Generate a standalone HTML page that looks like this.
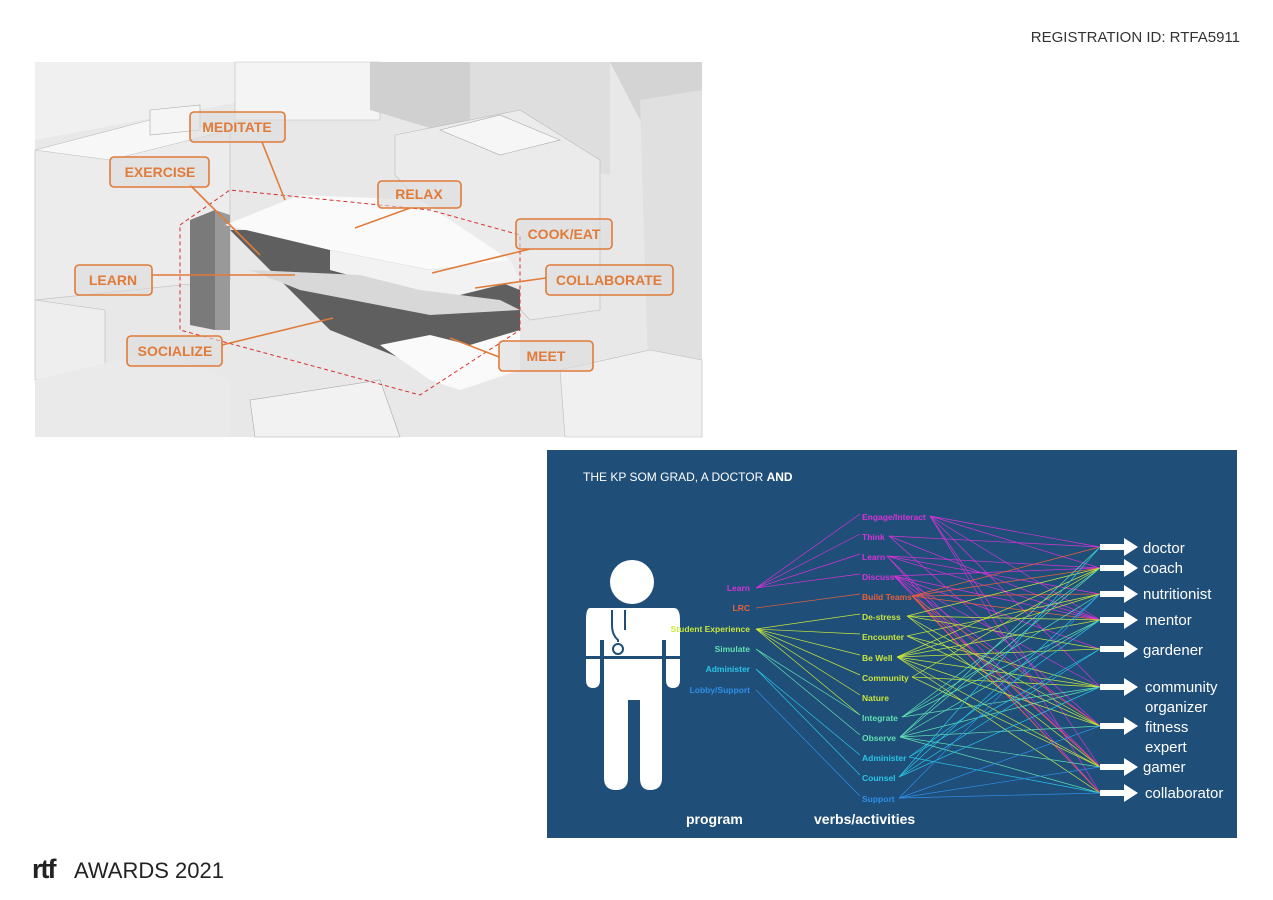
<!DOCTYPE html>
<html><head><meta charset="utf-8"><style>
body{margin:0;background:#fff;width:1273px;height:900px;overflow:hidden;font-family:"Liberation Sans",sans-serif}
svg{display:block}
</style></head><body>
<svg id="s" width="1273" height="900" viewBox="0 0 1273 900" xmlns="http://www.w3.org/2000/svg">
<text x="1240" y="42" text-anchor="end" font-size="15" fill="#333">REGISTRATION ID: RTFA5911</text>
<g>
<rect x="35" y="62" width="667" height="375" fill="#e8e8e8"/>
<polygon points="35,62 250,62 250,100 35,140" fill="#f0f0f0"/>
<polygon points="235,62 380,62 380,120 235,120" fill="#f4f4f4" stroke="#bbb" stroke-width=".6"/>
<polygon points="370,62 470,62 470,140 370,110" fill="#d0d0d0"/>
<polygon points="470,62 610,62 610,175 470,150" fill="#dedede"/>
<polygon points="610,62 702,62 702,110 640,120" fill="#d4d4d4"/>
<polygon points="640,100 702,90 702,437 650,437" fill="#e0e0e0"/>
<polygon points="35,150 230,130 230,280 35,300" fill="#ececec" stroke="#bbb" stroke-width=".6"/>
<polygon points="35,150 150,120 230,130 110,160" fill="#f7f7f7" stroke="#bbb" stroke-width=".6"/>
<polygon points="150,110 200,105 200,130 150,135" fill="#f5f5f5" stroke="#aaa" stroke-width=".6"/>
<polygon points="395,135 520,110 600,160 600,310 530,320 395,175" fill="#ebebeb" stroke="#bbb" stroke-width=".6"/>
<polygon points="440,130 500,115 560,140 500,155" fill="#f6f6f6" stroke="#aaa" stroke-width=".6"/>
<polygon points="35,300 105,310 105,370 35,380" fill="#eeeeee" stroke="#bbb" stroke-width=".6"/>
<polygon points="35,380 160,350 230,380 230,437 35,437" fill="#eaeaea"/>
<polygon points="250,400 380,380 400,437 255,437" fill="#f2f2f2" stroke="#aaa" stroke-width=".6"/>
<polygon points="560,370 650,350 702,360 702,437 565,437" fill="#f0f0f0" stroke="#bbb" stroke-width=".6"/>
<polygon points="190,220 215,210 215,330 190,325" fill="#7a7a7a"/>
<polygon points="215,210 230,215 230,330 215,330" fill="#999"/>
<polygon points="230,230 330,330 430,370 520,330 520,290 420,250 290,230" fill="#5f5f5f"/>
<polygon points="225,225 300,195 420,200 510,260 430,270 330,250" fill="#fafafa"/>
<polygon points="330,250 430,270 510,260 520,280 440,300 330,270" fill="#f2f2f2"/>
<polygon points="250,270 360,275 420,290 500,300 520,310 430,315 300,290" fill="#d8d8d8"/>
<polygon points="380,345 430,335 470,345 520,330 520,370 460,390 430,380" fill="#fafafa"/>
<polygon points="180,225 230,190 430,210 520,235 520,330 420,395 180,330" fill="none" stroke="#d83030" stroke-width="1" stroke-dasharray="4,3"/>
</g>
<g fill="none" stroke="#e07b39" stroke-width="1.6">
<line x1="262" y1="142" x2="285" y2="200"/>
<line x1="190" y1="185" x2="260" y2="255"/>
<line x1="410" y1="208" x2="355" y2="228"/>
<line x1="530" y1="249" x2="432" y2="273"/>
<line x1="152" y1="275" x2="295" y2="275"/>
<line x1="546" y1="278" x2="475" y2="288"/>
<line x1="222" y1="345" x2="333" y2="318"/>
<line x1="499" y1="357" x2="450" y2="338"/>
<rect x="190" y="112" width="95" height="30" rx="4" fill="rgba(220,220,220,.6)"/>
<rect x="110" y="157" width="99" height="30" rx="4" fill="rgba(220,220,220,.6)"/>
<rect x="378" y="181" width="83" height="27" rx="4" fill="rgba(220,220,220,.6)"/>
<rect x="516" y="219" width="96" height="30" rx="4" fill="rgba(220,220,220,.6)"/>
<rect x="75" y="265" width="77" height="30" rx="4" fill="rgba(220,220,220,.6)"/>
<rect x="546" y="265" width="127" height="30" rx="4" fill="rgba(220,220,220,.6)"/>
<rect x="127" y="336" width="95" height="30" rx="4" fill="rgba(220,220,220,.6)"/>
<rect x="499" y="341" width="94" height="30" rx="4" fill="rgba(220,220,220,.6)"/>
</g>
<g fill="#e07b39" font-size="14" font-weight="bold" text-anchor="middle">
<text x="237" y="132">MEDITATE</text>
<text x="160" y="177">EXERCISE</text>
<text x="419" y="199">RELAX</text>
<text x="564" y="239">COOK/EAT</text>
<text x="113" y="285">LEARN</text>
<text x="609" y="285">COLLABORATE</text>
<text x="175" y="356">SOCIALIZE</text>
<text x="546" y="361">MEET</text>
</g>
<rect x="547" y="450" width="690" height="388" fill="#1f4e79"/>
<text x="583" y="481" font-size="12" fill="#fff">THE KP SOM GRAD, A DOCTOR <tspan font-weight="bold">AND</tspan></text>
<g fill="#fff">
<circle cx="632" cy="582" r="22"/>
<path d="M590,608 H674 Q680,608 680,620 V680 Q680,688 673,688 Q666,688 666,680 V640 H662 V778 Q662,790 650,790 Q640,790 640,778 V700 H628 V778 Q628,790 616,790 Q604,790 604,778 V640 H600 V680 Q600,688 593,688 Q586,688 586,680 V620 Q586,608 590,608Z"/>
</g>
<path d="M612,610 V625 Q612,635 618,640 V642 M625,610 V630" stroke="#1f4e79" stroke-width="2" fill="none"/>
<circle cx="618" cy="649" r="5" stroke="#1f4e79" stroke-width="2" fill="none"/>
<rect x="586" y="656" width="94" height="3" fill="#1f4e79"/>
<g id="lines" stroke-width="0.7" fill="none"></g>
<g font-size="8.5" font-weight="bold" text-anchor="end">
<text x="750" y="591" fill="#d633d6">Learn</text>
<text x="750" y="611" fill="#e8603c">LRC</text>
<text x="750" y="632" fill="#c8e63c">Student Experience</text>
<text x="750" y="652" fill="#5fe0b0">Simulate</text>
<text x="750" y="672" fill="#29c5e6">Administer</text>
<text x="750" y="693" fill="#2f8fe6">Lobby/Support</text>
</g>
<g id="verbs" font-size="8.5" font-weight="bold"></g>
<g id="outs" fill="#fff"></g>
<g fill="#fff" font-size="15">
<text x="1143" y="553">doctor</text>
<text x="1143" y="573">coach</text>
<text x="1143" y="599">nutritionist</text>
<text x="1145" y="625">mentor</text>
<text x="1143" y="655">gardener</text>
<text x="1145" y="692">community</text>
<text x="1145" y="712">organizer</text>
<text x="1145" y="732">fitness</text>
<text x="1145" y="752">expert</text>
<text x="1143" y="772">gamer</text>
<text x="1145" y="798">collaborator</text>
</g>
<g fill="#fff" font-size="14" font-weight="bold">
<text x="686" y="824">program</text>
<text x="814" y="824">verbs/activities</text>
</g>
<text x="32" y="878" font-size="27" font-weight="bold" fill="#222" font-family="Liberation Sans,sans-serif" letter-spacing="-2">rtf</text>
<text x="74" y="878" font-size="22" fill="#222">AWARDS 2021</text>
</svg>
<script>
var NS="http://www.w3.org/2000/svg";
var verbs=[["Engage/Interact",517,"#d633d6",66],["Think",537,"#d633d6",25],["Learn",557,"#d633d6",23],["Discuss",577,"#d633d6",30],["Build Teams",597,"#e8603c",48],["De-stress",617,"#c8e63c",43],["Encounter",637,"#c8e63c",43],["Be Well",658,"#c8e63c",33],["Community",678,"#c8e63c",48],["Nature",698,"#c8e63c",0],["Integrate",718,"#5fe0b0",38],["Observe",738,"#5fe0b0",36],["Administer",758,"#29c5e6",45],["Counsel",778,"#29c5e6",35],["Support",799,"#2f8fe6",35]];
var prog=[[588,"#d633d6",[0,1,2,3]],[608,"#e8603c",[4]],[629,"#c8e63c",[5,6,7,8,9,10]],[649,"#5fe0b0",[10,11]],[669,"#29c5e6",[12,13]],[690,"#2f8fe6",[14]]];
var outs=[547,568,594,620,649,687,726,767,793];
var L=document.getElementById("lines"),V=document.getElementById("verbs"),O=document.getElementById("outs");
function ln(x1,y1,x2,y2,c){var l=document.createElementNS(NS,"line");l.setAttribute("x1",x1);l.setAttribute("y1",y1);l.setAttribute("x2",x2);l.setAttribute("y2",y2);l.setAttribute("stroke",c);L.appendChild(l);}
prog.forEach(function(p){p[2].forEach(function(i){ln(756,p[0],860,verbs[i][1]-3,p[1]);});});
var seed=3;function rnd(){seed=(seed*9301+49297)%233280;return seed/233280;}
verbs.forEach(function(v,i){
 var t=document.createElementNS(NS,"text");t.setAttribute("x",862);t.setAttribute("y",v[1]+3);t.setAttribute("fill",v[2]);t.textContent=v[0];V.appendChild(t);
 if(!v[3])return;
 outs.forEach(function(o){if(rnd()<0.6)ln(864+v[3],v[1]-1,1100,o,v[2]);});
});
outs.forEach(function(y){var p=document.createElementNS(NS,"path");p.setAttribute("d","M1100,"+(y-3)+" H1124 V"+(y-9)+" L1138,"+y+" L1124,"+(y+9)+" V"+(y+3)+" H1100Z");O.appendChild(p);});
</script>
</body></html>
